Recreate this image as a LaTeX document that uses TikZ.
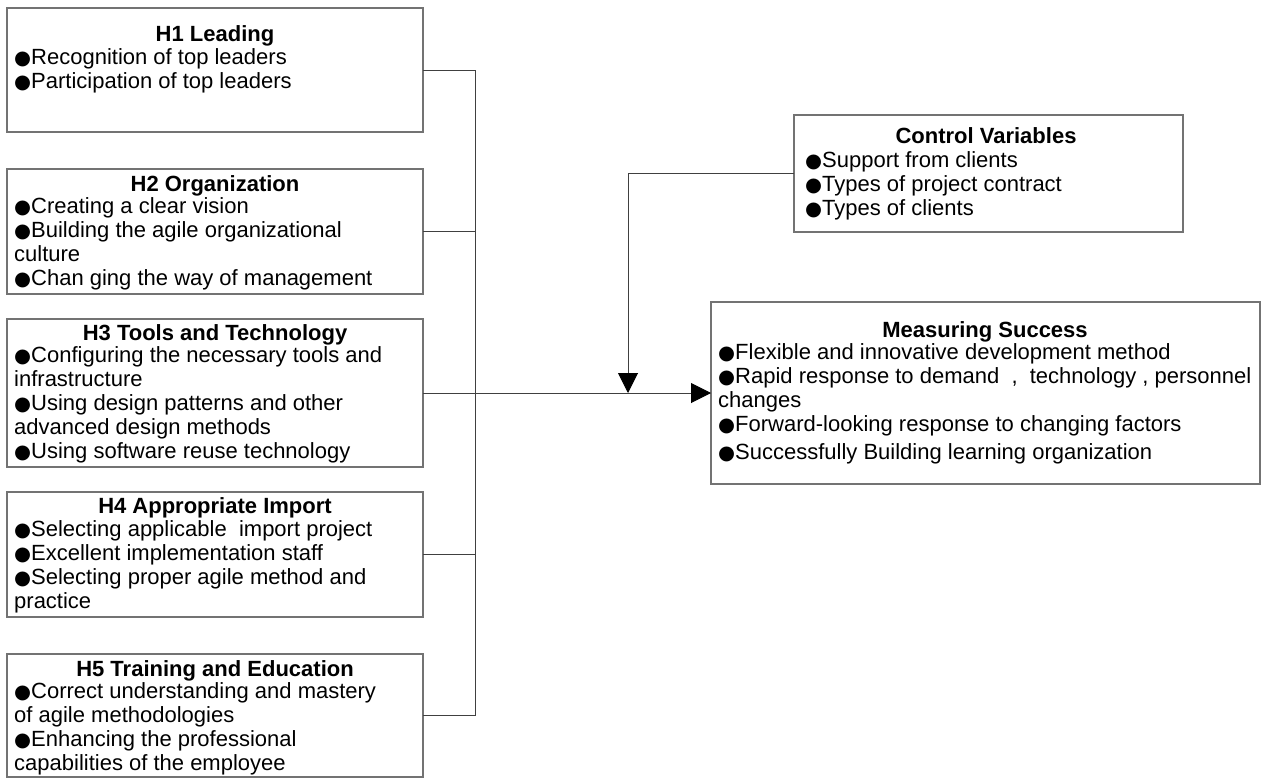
\documentclass[tikz,border=0pt]{standalone}
\usepackage{fontspec}
\setmainfont{Liberation Sans}
\newfontfamily\symfont{DejaVu Sans}
\usetikzlibrary{arrows.meta}
\newcommand{\bul}{\makebox[17pt][l]{\hspace{0pt}{\symfont\fontsize{19.5}{24}\selectfont ●}}}
\begin{document}
\begin{tikzpicture}[x=1pt,y=-1pt,
  box/.style={draw=black!55, line width=1.3pt, inner sep=0pt, outer sep=0pt, anchor=north west},
  ttl/.style={font=\fontsize{22}{24}\selectfont\bfseries, anchor=base, inner sep=0pt},
  body/.style={font=\fontsize{22}{24}\selectfont, align=left, anchor=north west, inner sep=0pt},
  conn/.style={draw=black!75, line width=1pt},
  arr/.style={conn, -{Triangle[length=20pt,width=20pt,color=black]}}]
\useasboundingbox (0,0) rectangle (1262,779);

% boxes
\node[box, minimum width=416pt, minimum height=124pt] (h1) at (7,8) {};
\node[box, minimum width=416pt, minimum height=125pt] (h2) at (7,169) {};
\node[box, minimum width=416pt, minimum height=148pt] (h3) at (7,319) {};
\node[box, minimum width=416pt, minimum height=125pt] (h4) at (7,492) {};
\node[box, minimum width=416pt, minimum height=123pt] (h5) at (7,654) {};
\node[box, minimum width=389pt, minimum height=117pt] (cv) at (794,115) {};
\node[box, minimum width=549pt, minimum height=182pt] (ms) at (711,302) {};

% titles
\node[ttl] (h1t) at (215,41) {H1 Leading};
\node[ttl] (h2t) at (215,191) {H2 Organization};
\node[ttl] (h3t) at (215,340) {H3 Tools and Technology};
\node[ttl] (h4t) at (215,513) {H4 Appropriate Import};
\node[ttl] (h5t) at (215,676) {H5 Training and Education};
\node[ttl] (cvt) at (986,143) {Control Variables};
\node[ttl] (mst) at (985,337) {Measuring Success};

% bodies
\node[body] (h1b) at (14,47.2) {\strut\bul Recognition of top leaders\\\bul Participation of top leaders};
\node[body] (h2b) at (14,196.2) {\strut\bul Creating a clear vision\\\bul Building the agile organizational\\culture\\\bul Chan ging the way of management};
\node[body] (h3b) at (14,345.2) {\strut\bul Configuring the necessary tools and\\infrastructure\\\bul Using design patterns and other\\advanced design methods\\\bul Using software reuse technology};
\node[body] (h4b) at (14,519.2) {\strut\bul Selecting applicable\ \ import project\\\bul Excellent implementation staff\\\bul Selecting proper agile method and\\practice};
\node[body] (h5b) at (14,681.2) {\strut\bul Correct understanding and mastery\\of agile methodologies\\\bul Enhancing the professional\\capabilities of the employee};
\node[body] (cvb) at (805,150.2) {\strut\bul Support from clients\\\bul Types of project contract\\\bul Types of clients};
\node[body] (msb) at (718,342.2) {\strut\bul Flexible and innovative development method\\\bul Rapid response to demand\ \ ,\ \ technology\ ,\ personnel\\changes\\\bul Forward-looking response to changing factors\\[4pt]\bul Successfully Building learning organization};

% connectors
\coordinate (bus) at (475,0);
\coordinate (j) at (628,393);
\foreach \n in {h1,h2,h3,h4,h5} \draw[conn] (\n.east) -- (\n.east -| bus);
\draw[conn] (h1.east -| bus) -- (h5.east -| bus);
\draw[arr] (h3.east) -- (ms.west);
\draw[arr] (cv.west) -| (j);
\end{tikzpicture}
\end{document}
